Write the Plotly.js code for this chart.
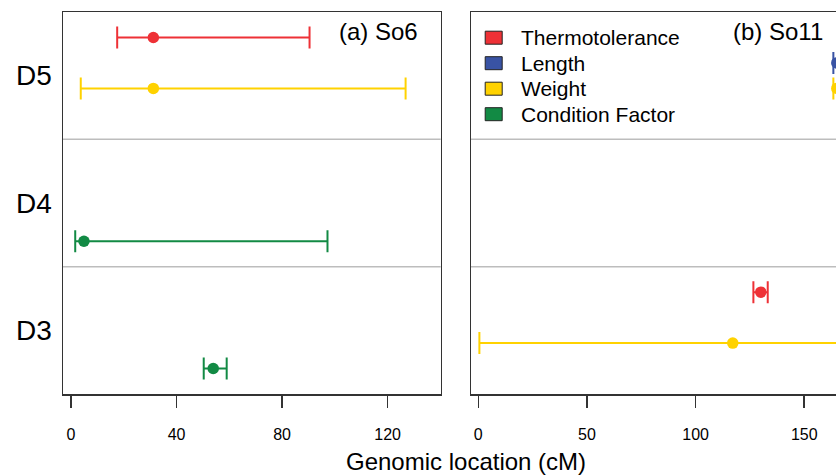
<!DOCTYPE html>
<html>
<head>
<meta charset="utf-8">
<script src="https://cdn.plot.ly/plotly-3.0.1.min.js"></script>
<style>
  html, body { margin: 0; padding: 0; overflow: hidden; background: #fff; }
  #chart { width: 880px; height: 475px; }
</style>
</head>
<body>
<div id="chart"></div>
<script>
// ---- data ----
var traits = ['Thermotolerance', 'Length', 'Weight', 'Condition Factor'];
var traitColors = ['#EE3136', '#3953A4', '#FFD200', '#128A44'];
var regions = ['D3', 'D4', 'D5'];

// Panel (a) So6
var soA_trait = ['Thermotolerance', 'Weight', 'Condition Factor', 'Condition Factor'];
var soA_region = ['D5', 'D5', 'D4', 'D3'];
var soA_pos = [31.2, 31.2, 4.9, 53.9];
var soA_low = [17.5, 3.7, 1.6, 50.3];
var soA_high = [90.4, 126.8, 97.2, 59.0];

// Panel (b) So11
var soB_trait = ['Length', 'Weight', 'Thermotolerance', 'Weight'];
var soB_region = ['D5', 'D5', 'D3', 'D3'];
var soB_pos = [165.0, 165.0, 130.0, 117.1];
var soB_low = [163.4, 163.4, 126.6, 0.5];
var soB_high = [171.0, 172.0, 133.2, 178.0];

var panelTitles = ['(a) So6', '(b) So11'];
var xTicksA = [0, 40, 80, 120];
var xTicksB = [0, 50, 100, 150];

// ---- build ----
var dodge = [0.3, 0.1, -0.1, -0.3]; // vertical dodge per trait within a region row

function buildTraces(tr, rg, pos, lo, hi, xa, ya) {
  var out = [];
  traits.forEach(function (t, ti) {
    var xs = [], ys = [], ep = [], em = [];
    for (var i = 0; i < tr.length; i++) {
      if (tr[i] !== t) continue;
      xs.push(pos[i]);
      ys.push(regions.indexOf(rg[i]) + 1 + dodge[ti]);
      ep.push(hi[i] - pos[i]);
      em.push(pos[i] - lo[i]);
    }
    if (!xs.length) return;
    out.push({
      type: 'scatter', mode: 'markers', x: xs, y: ys, xaxis: xa, yaxis: ya,
      showlegend: false, hoverinfo: 'skip',
      marker: { color: traitColors[ti], size: 11.5 },
      error_x: { type: 'data', symmetric: false, array: ep, arrayminus: em,
                 color: traitColors[ti], thickness: 2, width: 11 }
    });
  });
  return out;
}

var data = [].concat(
  buildTraces(soA_trait, soA_region, soA_pos, soA_low, soA_high, 'x', 'y'),
  buildTraces(soB_trait, soB_region, soB_pos, soB_low, soB_high, 'x2', 'y2')
);

var W = 880, H = 475;
var L = 63, R = 849, T = 12, B = 394;
var pw = R - L, ph = B - T;
function px(x) { return (x - L) / pw; }
function py(y) { return (B - y) / ph; }

var frame = { showline: true, linecolor: '#333', linewidth: 1.5, mirror: true, zeroline: false, showgrid: false };
var font = 'Liberation Sans, Arial, Helvetica, sans-serif';

var xCommon = Object.assign({}, frame, {
  ticks: 'outside', ticklen: 12, tickwidth: 1.5, tickcolor: '#333', ticklabelstandoff: 13,
  tickmode: 'array', tickfont: { size: 16, color: '#000', family: font }
});
var yCommon = Object.assign({}, frame, {
  range: [0.5, 3.5], tickmode: 'array', tickvals: [1, 2, 3], ticks: ''
});

var shapes = [];
['x', 'x2'].forEach(function (xa, k) {
  [1.5, 2.5].forEach(function (v) {
    shapes.push({ type: 'line', xref: xa + ' domain', yref: k ? 'y2' : 'y', x0: 0, x1: 1, y0: v, y1: v,
                  line: { color: '#BDBDBD', width: 1.5 }, layer: 'below' });
  });
});

var annotations = [
  { xref: 'paper', yref: 'paper', x: px(419.5), y: py(31.7), xanchor: 'right', yanchor: 'middle',
    text: panelTitles[0], showarrow: false, font: { size: 24, color: '#000', family: font } },
  { xref: 'paper', yref: 'paper', x: px(824.5), y: py(31.7), xanchor: 'right', yanchor: 'middle',
    text: panelTitles[1], showarrow: false, font: { size: 24, color: '#000', family: font } },
  { xref: 'paper', yref: 'paper', x: px(466), y: py(461.5), xanchor: 'center', yanchor: 'middle',
    text: 'Genomic location (cM)', showarrow: false, font: { size: 24, color: '#000', family: font } }
];

// legend key (drawn inside panel b)
traits.forEach(function (t, ti) {
  var cy = py(37.7 + 25.5 * ti);
  shapes.push({ type: 'rect', xref: 'paper', yref: 'paper', xsizemode: 'pixel', ysizemode: 'pixel',
                xanchor: px(493.7), yanchor: cy, x0: -8.5, x1: 8.5, y0: -6.5, y1: 6.5,
                fillcolor: traitColors[ti], line: { color: '#222', width: 1 } });
  annotations.push({ xref: 'paper', yref: 'paper', x: px(519), y: cy, xanchor: 'left', yanchor: 'middle',
                     text: t, showarrow: false, font: { size: 21, color: '#000', family: font } });
});

var layout = {
  width: W, height: H,
  margin: { l: L, r: W - R, t: T, b: H - B, pad: 0 },
  paper_bgcolor: '#fff', plot_bgcolor: '#fff',
  font: { family: font, color: '#000' },
  showlegend: false,
  xaxis: Object.assign({}, xCommon, { domain: [0, px(440.7)], range: [-3.03, 140.1], tickvals: xTicksA, ticktext: xTicksA.map(String) }),
  xaxis2: Object.assign({}, xCommon, { domain: [px(471), 1], range: [-3.36, 170.6], tickvals: xTicksB, ticktext: xTicksB.map(String), anchor: 'y2' }),
  yaxis: Object.assign({}, yCommon, { domain: [0, 1], ticktext: regions, tickfont: { size: 28, color: '#000', family: font }, ticklabelstandoff: 4 }),
  yaxis2: Object.assign({}, yCommon, { domain: [0, 1], anchor: 'x2', showticklabels: false }),
  shapes: shapes,
  annotations: annotations
};

Plotly.newPlot('chart', data, layout, { displayModeBar: false, staticPlot: true });
</script>
</body>
</html>
